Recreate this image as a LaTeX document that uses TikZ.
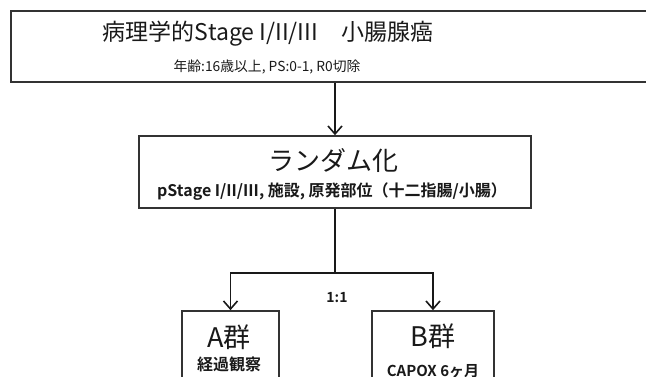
\documentclass[tikz,border=0pt]{standalone}
\usepackage{fontspec}
\setmainfont{Noto Sans CJK JP}
\newfontfamily\jpb{Noto Sans CJK JP}[BoldFont={* Bold}]
\usetikzlibrary{arrows.meta}
\tikzset{
  box/.style={draw=black!80, line width=1.6pt, rectangle, inner sep=0pt},
  arr/.style={draw=black!90, line width=1.6pt, -{Straight Barb[length=8pt,width=14pt,line width=1.6pt]}},
  conn/.style={draw=black!90, line width=1.6pt},
  txt/.style={inner sep=0pt, text=black!90},
}
\begin{document}
\begin{tikzpicture}[x=1pt,y=-1pt]
\useasboundingbox (0,0) rectangle (646,377);
\clip (0,0) rectangle (646,377);
% boxes
\node[box, minimum width=689pt, minimum height=71pt] (top) at (355.5,46.5) {};
\node[box, minimum width=392pt, minimum height=72pt] (rand) at (335,172) {};
\node[box, minimum width=97pt, minimum height=100pt] (a) at (230.5,361) {};
\node[box, minimum width=122pt, minimum height=100pt] (b) at (433,361) {};
% texts
\node[txt, font={\fontsize{23}{23}\selectfont}] (t1) at (268,34) {病理学的Stage I/II/III　小腸腺癌};
\node[txt, font={\fontsize{13.8}{14}\selectfont}] (t2) at (267,67) {年齢:16歳以上, PS:0-1, R0切除};
\node[txt, font={\fontsize{26}{26}\selectfont}] (r1) at (333,161) {ランダム化};
\node[txt, font={\jpb\bfseries\fontsize{16}{16}\selectfont}] (r2) at (332,192) {pStage I/II/III, 施設, 原発部位（十二指腸/小腸）};
\node[txt, font={\fontsize{27}{27}\selectfont}] (a1) at (229,337) {A群};
\node[txt, font={\jpb\bfseries\fontsize{16}{16}\selectfont}] (a2) at (229,364) {経過観察};
\node[txt, font={\fontsize{27}{27}\selectfont}] (b1) at (433,336) {B群};
\node[txt, font={\jpb\bfseries\fontsize{15}{15}\selectfont}] (b2) at (433,371) {CAPOX 6ヶ月};
\node[txt, font={\jpb\bfseries\fontsize{14}{14}\selectfont}] (ratio) at (337,298) {1:1};
% connectors
\draw[arr] (top.south -| rand.north) -- (rand.north);
\draw[conn] (rand.south) -- ++(0,64) coordinate (j);
\draw[arr] (j) -| (a.north);
\draw[arr] (j) -| (b.north);
\end{tikzpicture}
\end{document}
